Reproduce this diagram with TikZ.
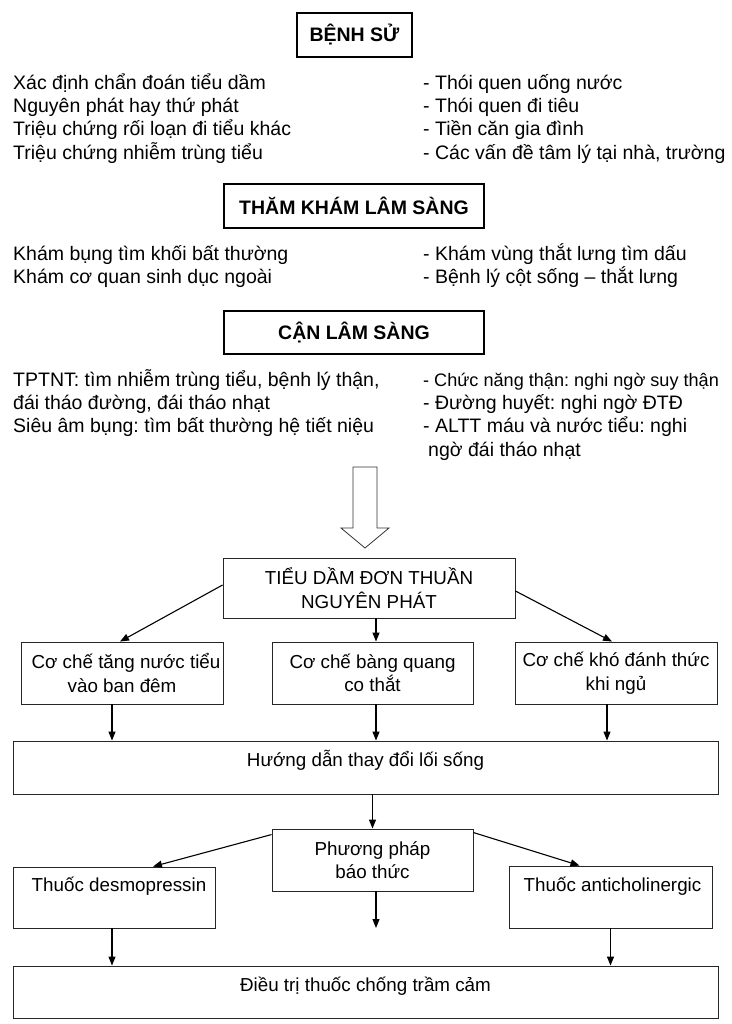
\documentclass[tikz,border=0pt]{standalone}
\usepackage{fontspec}
\setmainfont{Liberation Sans}
\frenchspacing
\usetikzlibrary{positioning,arrows.meta}

\begin{document}
\begin{tikzpicture}[x=1pt,y=-1pt,
  tieude/.style={draw=black,line width=1.6pt,font=\bfseries\fontsize{19.5}{23}\selectfont,inner sep=0pt},
  dong/.style={anchor=west,inner sep=0pt,text height=14pt,text depth=4.5pt,font=\fontsize{19.5}{23}\selectfont},
  hop/.style={draw=black!85,line width=0.9pt,align=center,font=\fontsize{18.8}{23.5}\selectfont,inner sep=0pt},
  fl/.style={-{Triangle[length=9pt,width=7pt]},line width=1.1pt}
]
\useasboundingbox (0,0) rectangle (731,1024);
% Benh su
\node[tieude,minimum width=115pt,minimum height=44pt,text height=16pt,text depth=3pt] (bs) at (354.5,35) {BỆNH SỬ};
\node[dong] (bsT1) at (13,85) {Xác định chẩn đoán tiểu dầm};
\node[dong] (bsT2) at (13,108) {Nguyên phát hay thứ phát};
\node[dong] (bsT3) at (13,131) {Triệu chứng rối loạn đi tiểu khác};
\node[dong] (bsT4) at (13,155) {Triệu chứng nhiễm trùng tiểu};
\node[dong] (bsP1) at (423,85) {- Thói quen uống nước};
\node[dong] (bsP2) at (423,108) {- Thói quen đi tiêu};
\node[dong] (bsP3) at (423,131) {- Tiền căn gia đình};
\node[dong] (bsP4) at (423,155) {- Các vấn đề tâm lý tại nhà, trường};
% Tham kham
\node[tieude,minimum width=260pt,minimum height=44pt] (tk) at (354,206) {THĂM KHÁM LÂM SÀNG};
\node[dong] (tkT1) at (13,256) {Khám bụng tìm khối bất thường};
\node[dong] (tkT2) at (13,279) {Khám cơ quan sinh dục ngoài};
\node[dong] (tkP1) at (423,256) {- Khám vùng thắt lưng tìm dấu};
\node[dong] (tkP2) at (423,279) {- Bệnh lý cột sống -- thắt lưng};
% Can lam sang
\node[tieude,minimum width=260pt,minimum height=43pt] (cls) at (354,332.5) {CẬN LÂM SÀNG};
\node[dong] (clsT1) at (13,382) {TPTNT: tìm nhiễm trùng tiểu, bệnh lý thận,};
\node[dong] (clsT2) at (13,405) {đái tháo đường, đái tháo nhạt};
\node[dong] (clsT3) at (13,428) {Siêu âm bụng: tìm bất thường hệ tiết niệu};
\node[dong,font=\fontsize{18.1}{23}\selectfont] (clsP1) at (423,382) {- Chức năng thận: nghi ngờ suy thận};
\node[dong] (clsP2) at (423,405) {- Đường huyết: nghi ngờ ĐTĐ};
\node[dong] (clsP3) at (423,428) {- ALTT máu và nước tiểu: nghi};
\node[dong] (clsP4) at (428,452) {ngờ đái tháo nhạt};
% mui ten lon
\draw[line width=0.8pt,draw=black!80] (353,467) -- (377,467) -- (377,528) -- (389,528)
  -- (365,548) -- (341,528) -- (353,528) -- cycle;
% so do dieu tri
\node[hop,minimum width=292pt,minimum height=60pt] (tieu) at (369,588) {TIỂU DẦM ĐƠN THUẦN\\NGUYÊN PHÁT};
\node[hop,minimum width=202pt,minimum height=62pt] (co1) at (122,673) {\hspace*{8pt}Cơ chế tăng nước tiểu\\vào ban đêm};
\node[hop,minimum width=201pt,minimum height=62pt] (co2) at (372.5,673) {Cơ chế bàng quang\\co thắt};
\node[hop,minimum width=202pt,minimum height=62pt] (co3) at (616,673) {Cơ chế khó đánh thức\\khi ngủ};
\node[hop,minimum width=705pt,minimum height=53pt,text height=25.5pt,text depth=27.5pt] (hd) at (365.5,767.5) {Hướng dẫn thay đổi lối sống};
\node[hop,minimum width=201pt,minimum height=62pt] (pp) at (372.5,860) {Phương pháp\\báo thức};
\node[hop,minimum width=202pt,minimum height=61pt,text height=24.5pt,text depth=36.5pt] (desmo) at (114,897.5) {\hspace*{10pt}Thuốc desmopressin};
\node[hop,minimum width=203pt,minimum height=62pt,text height=25pt,text depth=37pt] (anti) at (610.5,897) {\hspace*{4pt}Thuốc anticholinergic};
\node[hop,minimum width=705pt,minimum height=52pt,text height=25.5pt,text depth=26.5pt] (dt) at (365.5,992) {Điều trị thuốc chống trầm cảm};
\coordinate (ppend) at (376,928);

\draw[fl] ([yshift=3pt]tieu.west) -- ([xshift=-2pt]co1.north);
\draw[fl] ([xshift=3.5pt]co2.north |- tieu.south) -- ([xshift=3.5pt]co2.north);
\draw[fl] ([yshift=-3pt]tieu.east) -- ([xshift=-4pt]co3.north);
\draw[fl] ([xshift=-10pt]co1.south) -- ([xshift=-10pt]co1.south |- hd.north);
\draw[fl] ([xshift=3.5pt]co2.south) -- ([xshift=3.5pt]co2.south |- hd.north);
\draw[fl] ([xshift=-9pt]co3.south) -- ([xshift=-9pt]co3.south |- hd.north);
\draw[fl] (pp.north |- hd.south) -- (pp.north);
\draw[fl] ([yshift=-6pt]pp.north west) -- ([xshift=39pt]desmo.north);
\draw[fl] ([yshift=-4pt]pp.north east) -- ([xshift=-31pt]anti.north);
\draw[fl] ([xshift=3.5pt]pp.south) -- (ppend);
\draw[fl] ([xshift=-2pt]desmo.south) -- ([xshift=-2pt]desmo.south |- dt.north);
\draw[fl] (anti.south) -- (anti.south |- dt.north);
\end{tikzpicture}
\end{document}
